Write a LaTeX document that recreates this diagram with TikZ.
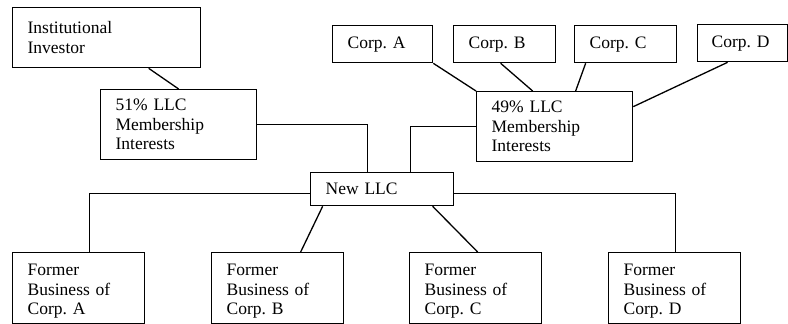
\documentclass[tikz,border=0pt]{standalone}
\usepackage{fontspec}
\setmainfont{Liberation Serif}

\begin{document}
\begin{tikzpicture}[x = 1pt, y = -1pt,
box/.style = {draw, line width = 1.3pt, anchor = north west, font = \fontsize{17.5}{19.5}\selectfont\frenchspacing, inner xsep = 15pt, inner ysep = 2pt, align = left},
owner/.style = {box, text width = 158pt, minimum height = 60pt},
share/.style = {box, text width = 126pt, minimum height = 70pt},
corp/.style = {box, minimum height = 37pt},
llc/.style = {box, text width = 113pt, minimum height = 33pt},
former/.style = {box, text width = 102pt, text height = 21pt, text depth = 46pt},
link/.style = {line width = 1.3pt},
]
\useasboundingbox (0,0) rectangle (788,324);

\node[owner] (inv) at (12,7) {Institutional\\Investor};
\node[share] (m51) at (100,89) {51\% LLC\\Membership\\Interests};
\node[share] (m49) at (476,91) {49\% LLC\\Membership\\Interests};
\node[corp, text width = 70pt] (corpA) at (332,25) {Corp. A};
\node[corp, text width = 72pt] (corpB) at (453,25) {Corp. B};
\node[corp, text width = 72pt] (corpC) at (574,25) {Corp. C};
\node[corp, text width = 62pt, inner xsep = 14pt] (corpD) at (697,24) {Corp. D};
\node[llc] (llc) at (310,172) {New LLC};
\node[former] (fmA) at (12,252) {Former\\Business of\\Corp. A};
\node[former] (fmB) at (211,252) {Former\\Business of\\Corp. B};
\node[former] (fmC) at (409,252) {Former\\Business of\\Corp. C};
\node[former] (fmD) at (608,252) {Former\\Business of\\Corp. D};

\draw[link] ([xshift=42pt]inv.south) -- (m51.north);
\draw[link] (m51.east) -| ([xshift=-14.5pt]llc.north);
\draw[link] (m49.west) -| ([xshift=28.5pt]llc.north);
\draw[link] (corpA.south east) -- (m49.north west);
\draw[link] ([xshift=-4pt]corpB.south) -- ([xshift=-22pt]m49.north);
\draw[link] ([xshift=-40pt]corpC.south) -- ([xshift=21pt]m49.north);
\draw[link] ([xshift=-15pt]corpD.south) -- ([yshift=20pt]m49.east);
\draw[link] ([yshift=-4pt]llc.west) -| ([xshift=11pt]fmA.north);
\draw[link] ([xshift=-59.5pt]llc.south) -- ([xshift=23pt]fmB.north);
\draw[link] ([xshift=50.5pt]llc.south) -- ([xshift=2pt]fmC.north);
\draw[link] ([yshift=-4pt]llc.east) -| ([xshift=1pt]fmD.north);
\end{tikzpicture}
\end{document}
